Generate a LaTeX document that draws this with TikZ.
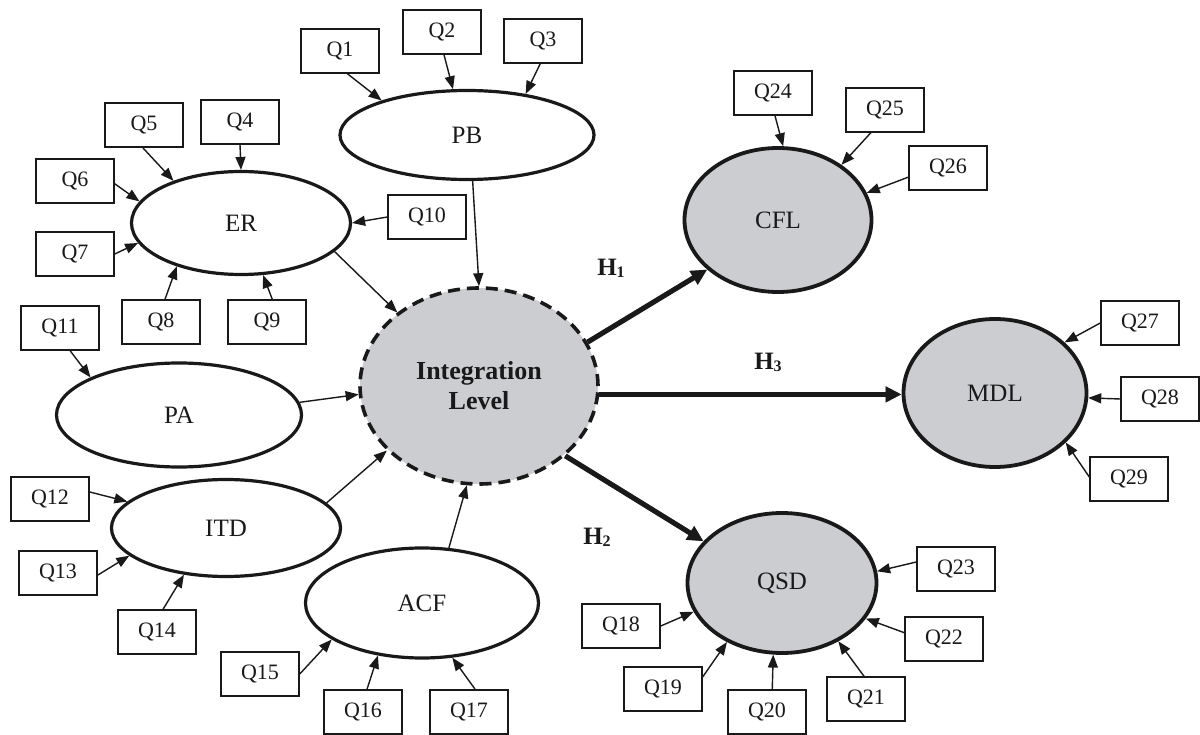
\documentclass[tikz,border=0pt]{standalone}
\usepackage{fontspec}
\setmainfont{Liberation Serif}
\usetikzlibrary{arrows.meta,shapes.geometric}
\definecolor{lvgray}{RGB}{204,205,208}
\definecolor{ink}{RGB}{25,25,25}
\begin{document}
\begin{tikzpicture}[x=1pt,y=-1pt,
  qbox/.style={draw=ink, line width=1.5pt, minimum width=78pt, minimum height=44pt, inner sep=0pt, text=ink, font=\fontsize{22}{22}\selectfont},
  lv/.style={draw=ink, ellipse, line width=3.2pt, inner sep=0pt, text=ink, font=\fontsize{25}{25}\selectfont},
  dv/.style={lv, fill=lvgray, line width=3.8pt},
  arr/.style={draw=ink, line width=1.4pt, -{Triangle[length=13pt,width=10pt]}},
  harr/.style={draw=ink, line width=5pt, -{Triangle[length=16pt,width=15pt]}},
  hshadow/.style={harr, draw=black!40, fill=black!40, xshift=1pt, yshift=-2.5pt},
  hlab/.style={text=ink, font=\fontsize{25}{25}\selectfont\bfseries}
]
\useasboundingbox[fill=white] (0,0) rectangle (1200,735);

% latent variables
\node[lv, minimum width=254pt, minimum height=89pt] (pb) at (467,135) {PB};
\node[lv, minimum width=219pt, minimum height=103pt] (er) at (241,223) {ER};
\node[lv, minimum width=245pt, minimum height=104pt] (pa) at (179,415) {PA};
\node[lv, minimum width=229pt, minimum height=97pt] (itd) at (226,528) {ITD};
\node[lv, minimum width=233pt, minimum height=110pt] (acf) at (422,603) {ACF};
\node[draw=ink, ellipse, fill=lvgray, line width=3.6pt, dash pattern=on 12pt off 7pt, minimum width=238pt, minimum height=196pt, inner sep=0pt, align=center, text=ink, font=\fontsize{26}{30}\selectfont\bfseries] (il) at (479,386) {Integration\\Level};
\node[dv, minimum width=187pt, minimum height=144pt] (cfl) at (778,220) {CFL};
\node[dv, minimum width=183pt, minimum height=148pt] (mdl) at (995,393) {MDL};
\node[dv, minimum width=189pt, minimum height=140pt] (qsd) at (782,583) {QSD};

% indicators
\node[qbox] (q1) at (340,51) {Q1};
\node[qbox] (q2) at (442,32) {Q2};
\node[qbox] (q3) at (543,41) {Q3};
\node[qbox] (q4) at (240,122) {Q4};
\node[qbox] (q5) at (144,125) {Q5};
\node[qbox] (q6) at (75,181) {Q6};
\node[qbox] (q7) at (75,254) {Q7};
\node[qbox] (q8) at (161,322) {Q8};
\node[qbox] (q9) at (267,322) {Q9};
\node[qbox] (q10) at (427,217) {Q10};
\node[qbox] (q11) at (60,328) {Q11};
\node[qbox] (q12) at (50,499) {Q12};
\node[qbox] (q13) at (58,573) {Q13};
\node[qbox] (q14) at (157,632) {Q14};
\node[qbox] (q15) at (260,674) {Q15};
\node[qbox] (q16) at (363,712) {Q16};
\node[qbox] (q17) at (469,712) {Q17};
\node[qbox] (q18) at (621,626) {Q18};
\node[qbox] (q19) at (663,689) {Q19};
\node[qbox] (q20) at (767,712) {Q20};
\node[qbox] (q21) at (866,699) {Q21};
\node[qbox] (q22) at (944,639) {Q22};
\node[qbox] (q23) at (956,569) {Q23};
\node[qbox] (q24) at (773,93) {Q24};
\node[qbox] (q25) at (885,110) {Q25};
\node[qbox] (q26) at (948,168) {Q26};
\node[qbox] (q27) at (1140,323) {Q27};
\node[qbox] (q28) at (1160,399) {Q28};
\node[qbox] (q29) at (1129,479) {Q29};

% indicator arrows
\draw[arr] (q1.-72) -- (pb.158);
\draw[arr] (q2.-85) -- (pb.107);
\draw[arr] (q3.-97) -- (pb.35);
\draw[arr] (q4.south) -- (er.north);
\draw[arr] (q5.-93) -- (er.148);
\draw[arr] (q6.-4) -- (er.168);
\draw[arr] (q7.east) -- (er.191);
\draw[arr] (q8.80) -- (er.-146);
\draw[arr] (q9.77) -- (er.-67);
\draw[arr] (q10.west) -- (er.east);
\draw[arr] (q11.-66) -- (pa.157);
\draw[arr] (q12.10) -- (itd.165);
\draw[arr] (q13.-3) -- (itd.196);
\draw[arr] (q14.75) -- (itd.-132);
\draw[arr] (q15.east) -- (acf.202);
\draw[arr] (q16.80) -- (acf.-130);
\draw[arr] (q17.75) -- (acf.-61);
\draw[arr] (q18.east) -- (qsd.198);
\draw[arr] (q19.17) -- (qsd.-133);
\draw[arr] (q20.77) -- (qsd.-97);
\draw[arr] (q21.95) -- (qsd.-46);
\draw[arr] (q22.171) -- (qsd.-23);
\draw[arr] (q23.170) -- (qsd.7);
\draw[arr] (q24.-85) -- (cfl.86);
\draw[arr] (q25.-122) -- (cfl.41);
\draw[arr] (q26.193) -- (cfl.17);
\draw[arr] (q27.west) -- (mdl.36);
\draw[arr] (q28.west) -- (mdl.-3);
\draw[arr] (q29.177) -- (mdl.-35);

% structural paths
\draw[arr] (pb.-83) -- (il.north);
\draw[arr] (er.-17) -- (il.138);
\draw[arr] (pa.6) -- (il.184);
\draw[arr] (itd.14) -- (il.215);
\draw[arr] (acf.64) -- (il.-97);

% hypotheses
\draw[hshadow] (il.22) -- (cfl.215);
\draw[harr] (il.22) -- (cfl.215);
\draw[hshadow] (il.-4) -- (il.-4 -| mdl.west);
\draw[harr] (il.-4) -- (il.-4 -| mdl.west);
\draw[hshadow] (il.-39) -- (qsd.152);
\draw[harr] (il.-39) -- (qsd.152);

\node[hlab] (h1) at (611,268) {H\raisebox{-2pt}{\fontsize{16}{16}\selectfont 1}};
\node[hlab] (h3) at (768,362) {H\raisebox{-2pt}{\fontsize{16}{16}\selectfont 3}};
\node[hlab] (h2) at (597,537) {H\raisebox{-2pt}{\fontsize{16}{16}\selectfont 2}};
\end{tikzpicture}
\end{document}
